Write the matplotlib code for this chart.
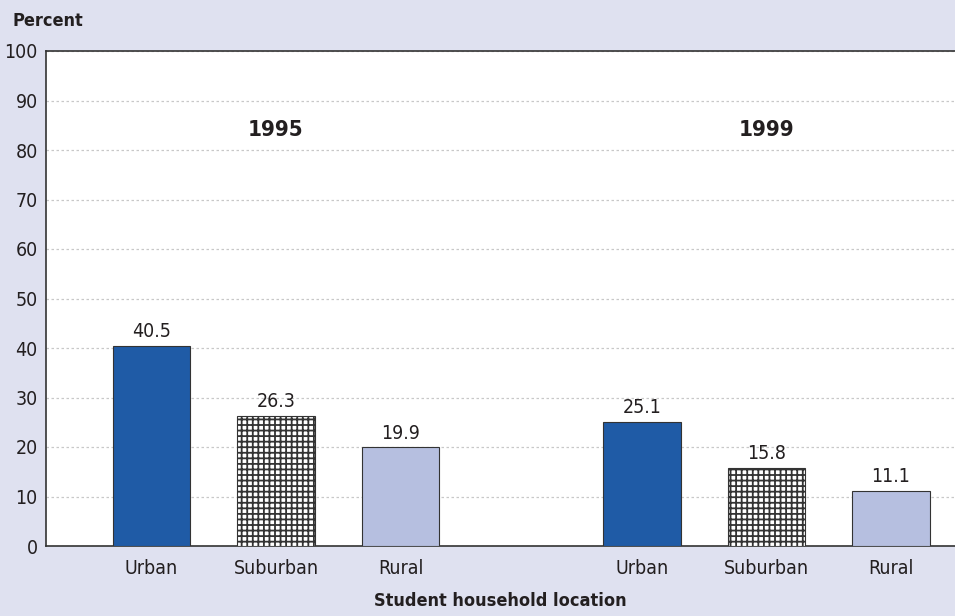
import matplotlib
matplotlib.use("Agg")
import matplotlib.pyplot as plt
import numpy as np

plt.rcParams['font.family'] = 'DejaVu Sans'
plt.rcParams['font.stretch'] = 'condensed'
plt.rcParams['hatch.linewidth'] = 1.3
plt.rcParams['hatch.color'] = '#111111'

# data
years = ["1995", "1999"]
locations = ["Urban", "Suburban", "Rural"]
values_1995 = [40.5, 26.3, 19.9]
values_1999 = [25.1, 15.8, 11.1]

bg = '#dfe1f0'
colors = ['#1f5ba6', 'white', '#b6bfe0']
hatches = [None, '+++', None]
txt = '#231f20'

fig = plt.figure(figsize=(9.55, 6.16), dpi=100, facecolor=bg)
ax = fig.add_axes([46/955, 1 - 546/616, 1 - 46/955, (546 - 51)/616])
ax.set_facecolor('white')

# two groups of bars, one per year
group_offset = [0.0, 3.94]
for g, (yr, vals) in enumerate(zip(years, [values_1995, values_1999])):
    xs = np.arange(len(locations)) + group_offset[g]
    for i, (x, v) in enumerate(zip(xs, vals)):
        ax.bar(x, v, width=0.62, color=colors[i], edgecolor='#333333',
               linewidth=0.8, hatch=hatches[i], zorder=3)
        ax.text(x, v + 1.0, f"{v:.1f}", ha='center', va='bottom', fontsize=14, color=txt)
    ax.text(xs[1], 84, yr, ha='center', va='center', fontsize=16, fontweight='bold', color=txt)

all_x = np.concatenate([np.arange(3) + o for o in group_offset])
ax.set_xticks(all_x)
ax.set_xticklabels(locations * 2, fontsize=14, color=txt)
ax.tick_params(axis='x', length=0, pad=9)
ax.tick_params(axis='y', length=0, pad=6, labelsize=14, labelcolor=txt)

ax.set_xlim(-0.847, 6.454)
ax.set_ylim(0, 100)
ax.set_yticks(np.arange(0, 101, 10))
ax.yaxis.grid(True, linestyle=(0, (2, 2)), color='#c8c8c8', linewidth=0.9, zorder=0)
ax.set_axisbelow(True)

for s in ['left', 'bottom', 'top']:
    ax.spines[s].set_color('#333333')
    ax.spines[s].set_linewidth(1.2)
ax.spines['right'].set_visible(False)

fig.text(12/955, 1 - 21/616, "Percent", fontsize=13, fontweight='bold', color=txt, va='center', ha='left')
fig.text(0.5 * (46 + 955) / 955, 1 - 601/616, "Student household location", fontsize=13,
         fontweight='bold', color=txt, ha='center', va='center')

fig.savefig("out.png", dpi=100, facecolor=bg)
